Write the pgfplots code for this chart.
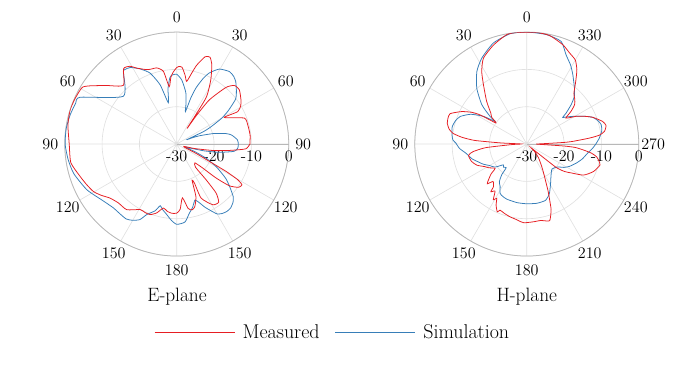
\documentclass[border=0pt]{standalone}
\usepackage{pgfplots}
\usepackage{pgfplotstable}
\pgfplotsset{compat=1.18}
\usepgfplotslibrary{polar}
\definecolor{mred}{RGB}{230,30,35}
\definecolor{mblue}{RGB}{55,126,184}

% E-plane, angle in pgfplots polar convention (0 = right, counter-clockwise), level in dB
\pgfplotstableread{
a d
0 -10.4
7 -10.2
15 -10.3
21 -10.6
29.2 -15.4
28 -11.5
31 -10
34.6 -9.1
41 -7.8
45.5 -8
49 -9.9
53.6 -15.3
55.5 -21
56.5 -25
57 -20.5
57.8 -15
62 -10.6
66 -6.9
69 -5.1
72 -5.4
75.8 -8.2
78 -10.5
81 -13
83 -11.5
86 -9.4
88.5 -9.2
90 -9.5
92.6 -10.6
95 -12
97.5 -14.5
100.4 -10.2
104.7 -8.9
108.4 -8.8
112 -8.5
117.8 -7
121 -5.7
125.2 -5.3
132.3 -8.75
140 -5.6
146 -2.1
149 -0.5
155 -0.2
162 0
170 -0.4
180 -1.2
190 -1.2
198.5 -2.7
204 -3.5
209.6 -4.3
214 -5.5
219 -7
225.3 -7.8
232.7 -7.9
240.8 -9.9
245 -9.8
249.3 -9.8
253.8 -10.8
258.2 -12.5
262 -11.8
266 -11.4
270 -11.5
273 -12.5
276 -15.5
280 -12.5
283 -11.9
286 -12.5
290 -15
293 -19.5
294.4 -18.5
294.3 -14.1
300.7 -11.1
305.8 -10.8
308.8 -13.2
309.4 -17.6
309 -22
314 -23
317.3 -20.5
319.2 -16.1
321.6 -12
325 -9.8
328 -9.4
329.7 -11.1
331 -14.9
332 -20.1
334 -24
337 -27.5
342 -28
346 -25
350 -20
353.1 -15.8
356 -11.5
360 -10.4
}\Ered

\pgfplotstableread{
a d
0 -13.5
4 -13.7
9.3 -15.1
12 -16.5
16 -19.8
20 -23.5
22 -25.5
23.5 -27
25 -22
27 -19.5
30 -16
33 -13.5
37 -10.4
39 -9.5
42 -8.5
46.6 -7
50 -6.3
54 -6
60.4 -6.9
65.3 -9
68 -11
71 -14
73 -17
75 -21
77 -19
80 -16
85.5 -12.8
90 -11.3
94 -11.5
96 -12.2
99 -15
101.5 -18.7
105.7 -13.5
110.6 -9.7
116 -7.6
121.3 -6
124.8 -5.7
126.4 -5.9
138.2 -10.8
154.2 -1.2
158 -0.8
164.6 -0.4
172 -0.1
180 -0.1
188 -0.6
196 -1.3
207 -3
217 -5
225 -5.9
231 -5.9
236 -5.8
240 -6.4
244 -7.5
247 -9.5
252 -11.2
255 -12.9
258 -12
262 -10.9
266 -9.5
270 -8.5
276 -9
280.4 -11.2
284 -12.5
288 -14.2
291 -13.2
294 -11.5
297 -10
300 -8.4
303 -7.8
306.5 -7.5
310 -7.6
314 -8.3
317 -9.3
321 -11.7
325 -14
330 -17.7
334 -21
337 -24.5
340 -27.5
343 -26.5
346 -22.5
349 -18.4
352.8 -14.5
356.3 -13.6
360 -13.5
}\Eblue

% H-plane
\pgfplotstableread{
a d
0 -27.5
1.5 -25
2.5 -20
3.3 -17.7
5.5 -13
7 -10.4
9.3 -8.9
13.2 -8.2
16.6 -8.8
22 -10.9
26 -13
29.3 -14.8
33.5 -17.4
36.4 -15.3
39.5 -13.4
43 -12.4
47 -11.5
52 -8.7
56 -6
60 -4
65 -3
70 -1.7
78 -0.3
85 0
95 0
100.4 -0.2
108.5 -2
116.7 -4.2
121.8 -7.1
126.1 -10.3
133.2 -14.3
139.3 -17.3
142.7 -18.2
145.6 -20
148 -15.3
150 -13
153.5 -10.5
158.4 -7.9
162 -7.8
165.4 -8
169 -8.8
171.7 -10
174 -12.5
176 -16
177.5 -23
179 -28.5
182 -26
185 -19
188 -15.5
191 -14.1
197.5 -14.5
203 -15.5
208.5 -17.3
212 -18
217.5 -19.3
220 -17.5
223.2 -15.9
225.2 -15
228 -16.5
232 -15.5
233 -14
236 -14.8
239 -12.6
241 -13.4
243.3 -11.7
246.5 -10.2
248 -10.9
252 -10.5
257 -10
262 -9.6
265 -9.2
268 -8.9
271 -9
275 -9.1
280 -9.2
282.3 -9
286.7 -8.6
290.3 -11.2
292 -13.5
294.7 -16.5
302 -22
310 -25
316 -27
319 -28.5
320.5 -26.5
321.5 -20
324 -17.5
327 -15.8
331.3 -12.7
337.5 -10.7
344 -9.6
347 -10.2
349.7 -11
352 -12.5
354 -14.7
356 -17
357 -20
358.6 -26.3
360 -27.5
}\Hred

\pgfplotstableread{
a d
0 -11.5
4.7 -10.5
10 -9.6
14.6 -9.4
18 -9.9
22 -10.9
26 -13
31 -15.6
34 -17
36.5 -18
38.2 -16.6
41.6 -14.1
45 -12
49.6 -10.3
56.4 -7.7
61 -5.8
66.2 -3.9
71.5 -1
80 -0.2
90 0
98.5 -0.1
108.3 -1.5
117.6 -4
124.5 -6.4
131.8 -9.9
138.8 -14
143 -17.7
144.4 -19.6
147.4 -16.2
152 -13
157.5 -10.7
162 -9.9
167 -9.5
172.9 -9.8
176.9 -10.2
179.2 -11
183.6 -11.9
188.5 -13.5
195 -14.8
200.4 -16.2
205 -17.2
210 -18.5
216 -19.5
221.5 -21.6
225 -21.2
229 -21.6
230.8 -19.4
234 -17.5
237.8 -16.6
241.6 -15
245 -14.6
250.1 -14.3
260.3 -14.1
270 -14
279.6 -13.9
285 -14
288.5 -14.1
292 -14.8
294.8 -15.5
300 -17.3
306.9 -19.2
315.4 -20.5
323.4 -19.7
328 -18.2
332.4 -17.1
338.9 -15.8
345 -14.6
351.6 -13.5
356 -12.4
360 -11.5
}\Hblue

\pgfplotsset{
  pp/.style={
    width=174pt, height=174pt, scale only axis,
    anchor=center,
    xmin=0, xmax=360, ymin=0, ymax=30,
    xtick={0,30,...,330},
    ytick={0,10,20,30},
    yticklabels={-30,-20,-10,0},
    grid=major,
    major grid style={black!12, line width=0.5pt},
    axis line style={black!28, line width=0.6pt},
    major tick length=0pt,
    tick style={draw=none},
    xticklabel style={font=\fontsize{12.5}{15}\selectfont, circle, inner sep=0pt, minimum size=22pt},
    yticklabel style={font=\fontsize{12.5}{15}\selectfont, anchor=north, yshift=-1.5pt},
  },
  ms/.style={mred, line width=0.6pt, smooth, tension=0.35},
  ss/.style={mblue, line width=0.6pt, smooth, tension=0.35},
}

\begin{document}
\begin{tikzpicture}
\path[use as bounding box] (0,0) rectangle (536pt,-284.4pt);

\begin{polaraxis}[pp, at={(137.3pt,-111.9pt)},
  xticklabels={90,60,30,0,30,60,90,120,150,180,150,120}]
\addplot[ss] table[x=a, y expr=\thisrow{d}+30] {\Eblue};
\addplot[ms] table[x=a, y expr=\thisrow{d}+30] {\Ered};
\end{polaraxis}

\begin{polaraxis}[pp, at={(409.2pt,-111.9pt)},
  xticklabels={270,300,330,0,30,60,90,120,150,180,210,240}]
\addplot[ss] table[x=a, y expr=\thisrow{d}+30] {\Hblue};
\addplot[ms] table[x=a, y expr=\thisrow{d}+30] {\Hred};
\end{polaraxis}

\node[font=\fontsize{15}{18}\selectfont] at (137.5pt,-230.8pt) {E-plane};
\node[font=\fontsize{15}{18}\selectfont] at (409.2pt,-230.8pt) {H-plane};

\begin{axis}[at={(258.7pt,-258pt)}, anchor=center, hide axis,
  width=10pt, height=10pt, scale only axis,
  xmin=0, xmax=1, ymin=0, ymax=1,
  legend columns=2,
  legend style={at={(0.5,0.5)}, anchor=center, draw=none, fill=none,
    font=\fontsize{15.5}{18}\selectfont,
    /tikz/every odd column/.style={column sep=4pt},
    /tikz/every even column/.style={column sep=10pt}},
  legend image code/.code={\draw[#1] (0pt,0pt) -- (62pt,0pt);}]
\addlegendimage{mred, line width=0.6pt}\addlegendentry{Measured}
\addlegendimage{mblue, line width=0.6pt}\addlegendentry{Simulation}
\end{axis}
\end{tikzpicture}
\end{document}
